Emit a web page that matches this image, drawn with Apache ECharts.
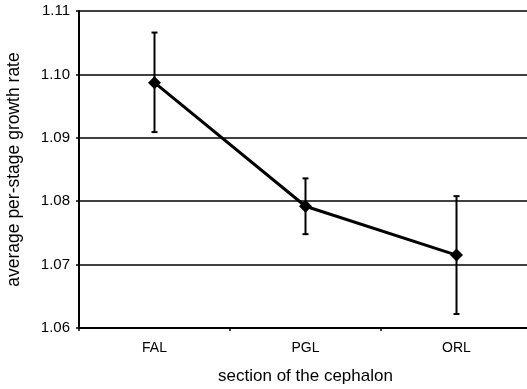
<!DOCTYPE html>
<html>
<head>
<meta charset="utf-8">
<script src="https://cdn.jsdelivr.net/npm/echarts@6/dist/echarts.min.js"></script>
<style>
  html, body { margin: 0; padding: 0; background: #fff; }
  #main { width: 527px; height: 389px; }
</style>
</head>
<body>
<div id="main"></div>
<script>
const categories = ['FAL', 'PGL', 'ORL'];
const means = [1.0987, 1.0792, 1.0715];
const errLow = [1.0909, 1.0748, 1.0622];
const errHigh = [1.1066, 1.0836, 1.0808];
const yTicks = [1.06, 1.07, 1.08, 1.09, 1.10, 1.11];

const chart = echarts.init(document.getElementById('main'));
const font = "'Liberation Sans', Arial, sans-serif";

const option = {
  animation: false,
  grid: { left: 79, right: -5, top: 11, bottom: 61, containLabel: false, outerBoundsMode: 'none' },
  xAxis: {
    type: 'category',
    data: categories,
    name: 'section of the cephalon',
    nameLocation: 'middle',
    nameGap: 40,
    nameTextStyle: { fontFamily: font, fontSize: 17, color: '#000' },
    axisLine: { lineStyle: { color: '#000', width: 2 } },
    axisTick: { show: true, length: 3, lineStyle: { color: '#000', width: 1.5 } },
    axisLabel: { fontFamily: font, fontSize: 14, color: '#000', margin: 13 },
    splitLine: { show: false }
  },
  yAxis: {
    type: 'value',
    min: 1.06,
    max: 1.11,
    interval: 0.01,
    name: 'average per-stage growth rate',
    nameLocation: 'middle',
    nameGap: 56,
    nameTextStyle: { fontFamily: font, fontSize: 17.5, color: '#000' },
    axisLine: { show: true, lineStyle: { color: '#000', width: 2 } },
    axisTick: { show: true, length: 3, lineStyle: { color: '#000', width: 1.5 } },
    axisLabel: {
      fontFamily: font, fontSize: 15, color: '#000', margin: 9,
      formatter: (v) => {
        const t = yTicks.find((k) => Math.abs(k - v) < 1e-6);
        return t !== undefined ? t.toFixed(2) : '';
      }
    },
    splitLine: { show: true, lineStyle: { color: '#000', width: 1.5 } }
  },
  series: [
    {
      type: 'custom',
      data: categories.map((c, i) => [i, errLow[i], errHigh[i]]),
      renderItem: (params, api) => {
        const lo = api.coord([api.value(0), api.value(1)]);
        const hi = api.coord([api.value(0), api.value(2)]);
        const w = 3;
        const style = { stroke: '#000', lineWidth: 2 };
        return {
          type: 'group',
          children: [
            { type: 'line', shape: { x1: hi[0], y1: hi[1], x2: lo[0], y2: lo[1] }, style },
            { type: 'line', shape: { x1: hi[0] - w, y1: hi[1], x2: hi[0] + w, y2: hi[1] }, style },
            { type: 'line', shape: { x1: lo[0] - w, y1: lo[1], x2: lo[0] + w, y2: lo[1] }, style }
          ]
        };
      },
      z: 3
    },
    {
      type: 'line',
      data: means,
      symbol: 'diamond',
      symbolSize: 13,
      itemStyle: { color: '#000' },
      lineStyle: { color: '#000', width: 3 },
      z: 4
    }
  ]
};

chart.setOption(option);
</script>
</body>
</html>
